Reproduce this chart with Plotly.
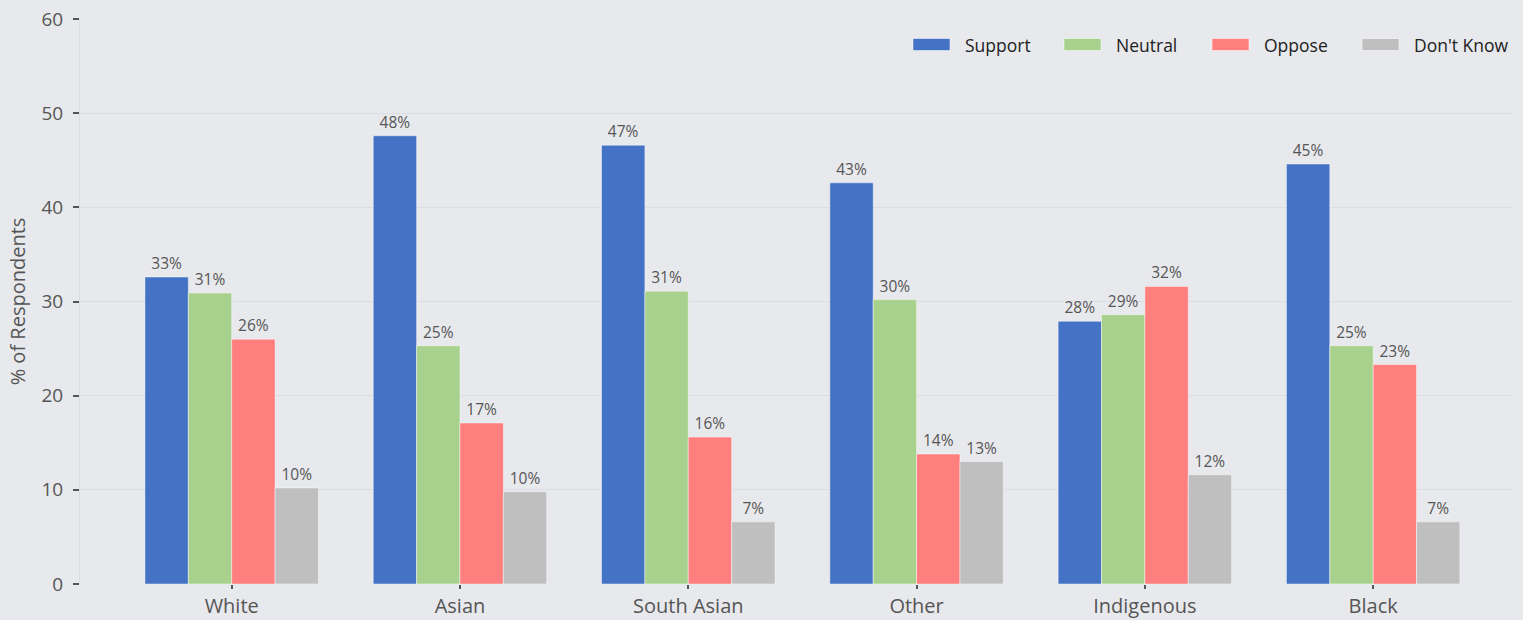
import plotly.graph_objects as go

# Survey results by group
groups = ["White", "Asian", "South Asian", "Other", "Indigenous", "Black"]
series_names = ["Support", "Neutral", "Oppose", "Don't Know"]
support = [32.6, 47.6, 46.6, 42.6, 27.9, 44.6]
neutral = [30.9, 25.3, 31.1, 30.2, 28.6, 25.3]
oppose = [26.0, 17.1, 15.6, 13.8, 31.6, 23.3]
dont_know = [10.2, 9.8, 6.6, 13.0, 11.6, 6.6]
colors = ["#4472c4", "#a9d18e", "#ff7f7f", "#bfbfbf"]
y_ticks = [0, 10, 20, 30, 40, 50, 60]

BG = "#e8e9ed"
GRID = "#dcdde2"
TEXT = "#555555"
FONT = "Open Sans"

W, H = 1523, 620
M_L, M_R, M_T, M_B = 80, 10, 19, 36
PW, PH = W - M_L - M_R, H - M_T - M_B

fig = go.Figure()
for name, vals, col in zip(series_names, [support, neutral, oppose, dont_know], colors):
    fig.add_trace(go.Bar(
        name=name,
        x=list(range(len(groups))),
        y=vals,
        marker=dict(color=col, line=dict(color="rgba(255,255,255,0.45)", width=1)),
        texttemplate="%{y:.0f}%",
        textposition="outside",
        textfont=dict(family=FONT, size=15.5, color=TEXT),
        cliponaxis=False,
        showlegend=False,
    ))

# Legend drawn as wide swatches in the top-right corner
def px_x(p):
    return (p - M_L) / PW

def px_y(p):
    return (H - M_B - p) / PH

legend_starts = [913, 1064, 1212, 1362]
sw_w, sw_h, leg_cy, txt_gap = 37, 12, 44.5, 13
for x0, name, col in zip(legend_starts, series_names, colors):
    fig.add_shape(type="rect", xref="paper", yref="paper",
                  x0=px_x(x0), x1=px_x(x0 + sw_w),
                  y0=px_y(leg_cy + sw_h / 2), y1=px_y(leg_cy - sw_h / 2),
                  fillcolor=col, line=dict(color="rgba(255,255,255,0.5)", width=1))
    fig.add_annotation(xref="paper", yref="paper", x=px_x(x0 + sw_w + txt_gap), y=px_y(leg_cy),
                       xanchor="left", yanchor="middle", showarrow=False, text=name,
                       font=dict(family=FONT, size=17.5, color="#222222"))

fig.update_layout(
    width=W, height=H,
    margin=dict(l=M_L, r=M_R, t=M_T, b=M_B, autoexpand=False),
    paper_bgcolor=BG, plot_bgcolor=BG,
    barmode="group", bargap=0.24, bargroupgap=0,
    font=dict(family=FONT, color=TEXT),
    xaxis=dict(
        range=[-0.6645, 5.6125], automargin=False,
        tickmode="array", tickvals=list(range(len(groups))), ticktext=groups,
        ticks="outside", ticklen=4, tickwidth=1.5, tickcolor=TEXT,
        tickfont=dict(family=FONT, size=20, color=TEXT),
        ticklabelstandoff=0,
        showgrid=False, zeroline=False, showline=False,
    ),
    yaxis=dict(
        range=[0, 60], tickvals=y_ticks, automargin=False,
        ticks="outside", ticklen=6, tickwidth=1.5, tickcolor=TEXT,
        tickfont=dict(family=FONT, size=19, color=TEXT),
        showgrid=True, gridcolor=GRID, gridwidth=1,
        zeroline=False, showline=True, linecolor=GRID, linewidth=1,
        title=dict(text="% of Respondents", font=dict(family=FONT, size=20, color=TEXT), standoff=10),
        ticklabelstandoff=6,
    ),
)

fig.write_html("out.html")
